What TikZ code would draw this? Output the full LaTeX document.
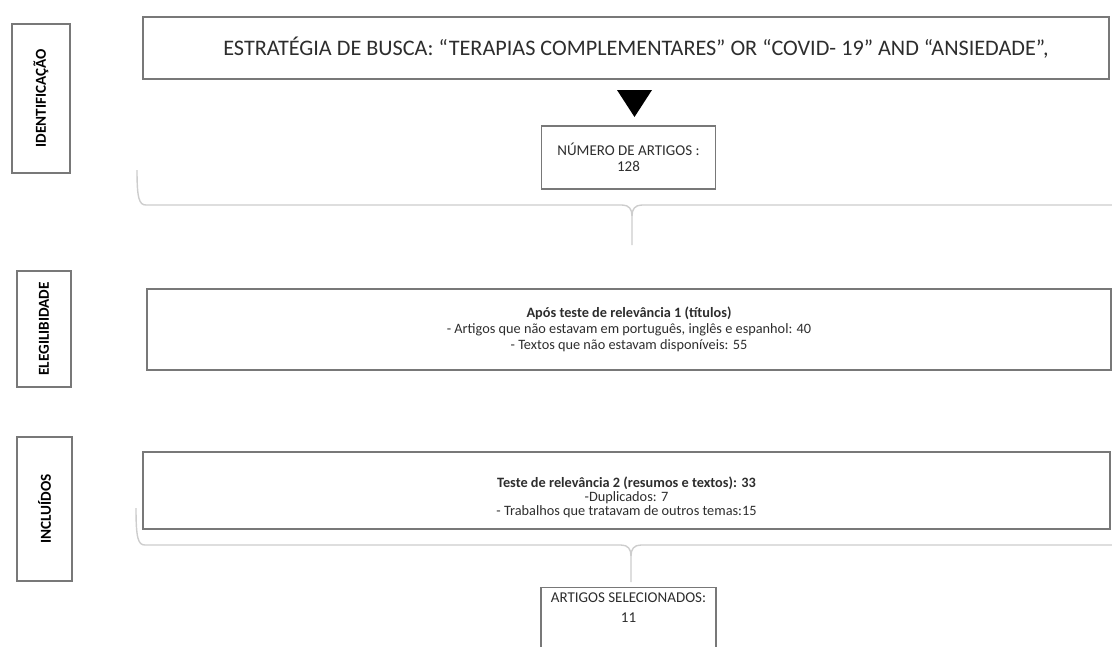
\documentclass[tikz,border=0pt]{standalone}
\usepackage{fontspec}
\setmainfont{Carlito}
\usetikzlibrary{positioning}
\definecolor{linhacaixa}{RGB}{120,120,120}
\definecolor{linhachave}{RGB}{205,205,205}
\definecolor{texto}{RGB}{45,45,45}
\tikzset{
  etapa/.style={draw=linhacaixa,line width=1.1pt,rotate=90,inner sep=0pt,
    font=\bfseries\fontsize{15.2}{17}\selectfont},
  caixa/.style={draw=linhacaixa,line width=1.1pt,align=center,inner sep=0pt,text=texto},
  chave/.style={draw=linhachave,line width=1.4pt}
}
\begin{document}
\begin{tikzpicture}[x=1pt,y=-1pt]
                \useasboundingbox (0,0) rectangle (1112,646);
                % etapas
                \node[etapa,minimum width=149,minimum height=58] (ident) at (41,98.5) {IDENTIFICAÇÃO};
                \node[etapa,minimum width=116,minimum height=54] (eleg) at (44,329) {ELEGILIBIDADE};
                \node[etapa,minimum width=144,minimum height=55] (incl) at (44.5,509) {INCLUÍDOS};
                % caixas
                \node[caixa,minimum width=966,minimum height=62,font=\fontsize{22.2}{26}\selectfont] (busca) at (626,48)
                    {\hspace*{20pt}ESTRATÉGIA DE BUSCA: “TERAPIAS COMPLEMENTARES” OR “COVID- 19” AND “ANSIEDADE”,};
                \node[caixa,minimum width=174,minimum height=63,font=\fontsize{15}{16}\selectfont] (numero) at (628.5,157.5)
                    {NÚMERO DE ARTIGOS :\\128};
                \node[caixa,minimum width=964,minimum height=81,font=\fontsize{14.3}{15.8}\selectfont] (teste1) at (629,329.5)
                    {\textbf{Após teste de relevância 1 (títulos)}\\- Artigos que não estavam em português, inglês e espanhol: 40\\- Textos que não estavam disponíveis: 55};
                \node[caixa,minimum width=967,minimum height=77,text height=52pt,font=\fontsize{14.3}{14}\selectfont] (teste2) at (626.5,490.5)
                    {\textbf{Teste de relevância 2 (resumos e textos): 33}\\-Duplicados: 7\\- Trabalhos que tratavam de outros temas:15};
                \node[caixa,minimum width=175,anchor=north,inner ysep=5pt,text depth=45pt,font=\fontsize{15}{20}\selectfont] (selec) at (628.5,587)
                    {ARTIGOS SELECIONADOS:\\11};
                % seta
                \fill (617,90) -- (652,90) -- (634.5,117) -- cycle;
                % chaves
                \coordinate (ponta1) at (632,245);
                \coordinate (ponta2) at (631,582);
                \draw[chave] (137,170) .. controls (137,198) and (139,205) .. (146,205) -- (622,205)
                    .. controls (629,205) and (632,209) .. (632,216) -- (ponta1);
                \draw[chave] (1112,205) -- (642,205) .. controls (635,205) and (632,209) .. (632,216);
                \draw[chave] (136,508) .. controls (136,538) and (138,545) .. (145,545) -- (621,545)
                    .. controls (628,545) and (631,549) .. (631,556) -- (ponta2);
                \draw[chave] (1112,545) -- (641,545) .. controls (634,545) and (631,549) .. (631,556);
\end{tikzpicture}
\end{document}
